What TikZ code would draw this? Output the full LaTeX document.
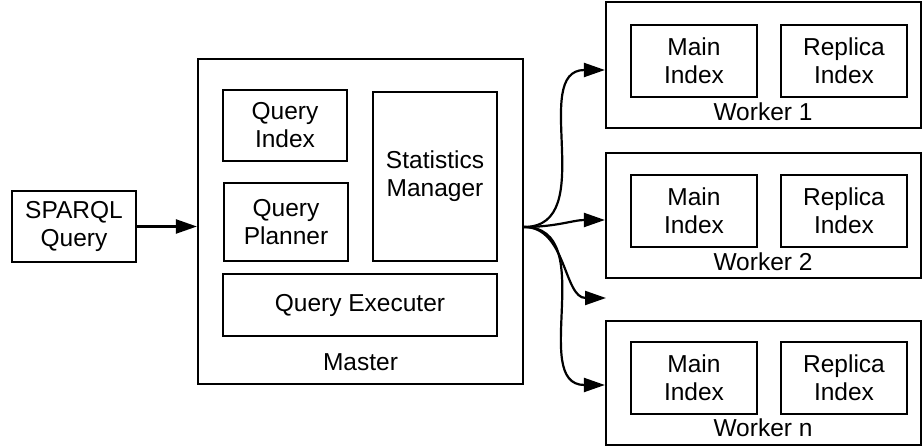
\documentclass[tikz,border=0pt]{standalone}
\usepackage{fontspec}
\setmainfont{Liberation Sans}
\usetikzlibrary{arrows.meta}
\tikzset{
  box/.style={draw=black, line width=2.2pt, inner sep=0pt, align=center, font=\fontsize{24.5}{28}\selectfont},
  lbl/.style={inner sep=0pt, font=\fontsize{24.5}{28}\selectfont},
  conn/.style={line width=2.2pt, -{Triangle[length=21pt,width=14pt]}}
}
\begin{document}
\begin{tikzpicture}[x=1pt,y=-1pt]
\useasboundingbox (0,0) rectangle (922,446);
% input
\node[box, minimum width=124pt, minimum height=71pt] (sparql) at (74,226.5) {SPARQL\\Query};
% master
\node[box, minimum width=325pt, minimum height=325pt] (master) at (360.5,221.5) {};
\node[box, minimum width=124pt, minimum height=71pt] (qindex) at (285,125.5) {Query\\Index};
\node[box, minimum width=124pt, minimum height=78pt] (qplanner) at (286,222) {Query\\Planner};
\node[box, minimum width=124pt, minimum height=169pt] (stats) at (435,176.5) {Statistics\\Manager};
\node[box, minimum width=274pt, minimum height=62pt] (qexec) at (360,305) {Query Executer};
\node[lbl] (masterlbl) at (360.5,362) {Master};
% workers
\node[box, minimum width=315pt, minimum height=126pt] (w1) at (763.5,65) {};
\node[box, minimum width=126pt, minimum height=72pt] (m1) at (694,61) {Main\\Index};
\node[box, minimum width=126pt, minimum height=72pt] (r1) at (844,61) {Replica\\Index};
\node[lbl] (w1lbl) at (763,112) {Worker 1};

\node[box, minimum width=315pt, minimum height=125pt] (w2) at (763.5,215.5) {};
\node[box, minimum width=126pt, minimum height=72pt] (m2) at (694,211) {Main\\Index};
\node[box, minimum width=126pt, minimum height=72pt] (r2) at (844,211) {Replica\\Index};
\node[lbl] (w2lbl) at (763,262) {Worker 2};

\node[box, minimum width=315pt, minimum height=124pt] (wn) at (763.5,383) {};
\node[box, minimum width=126pt, minimum height=72pt] (mn) at (694,378) {Main\\Index};
\node[box, minimum width=126pt, minimum height=72pt] (rn) at (844,378) {Replica\\Index};
\node[lbl] (wnlbl) at (763,428) {Worker n};

% connectors
\draw[conn] (sparql.east) -- (sparql.east -| master.west);
\coordinate (fan) at ([yshift=-5.5pt]master.east);
\coordinate (ph) at (606,298);
\draw[conn] (fan) to[out=0,in=180,looseness=1.1] ([yshift=-5pt]w1.west);
\draw[conn] (fan) to[out=0,in=180,looseness=1] ([yshift=-4.5pt]w2.west);
\draw[conn] (fan) to[out=0,in=180,looseness=1] (ph);
\draw[conn] (fan) to[out=0,in=180,looseness=1.1] ([yshift=-2pt]wn.west);
\end{tikzpicture}
\end{document}
